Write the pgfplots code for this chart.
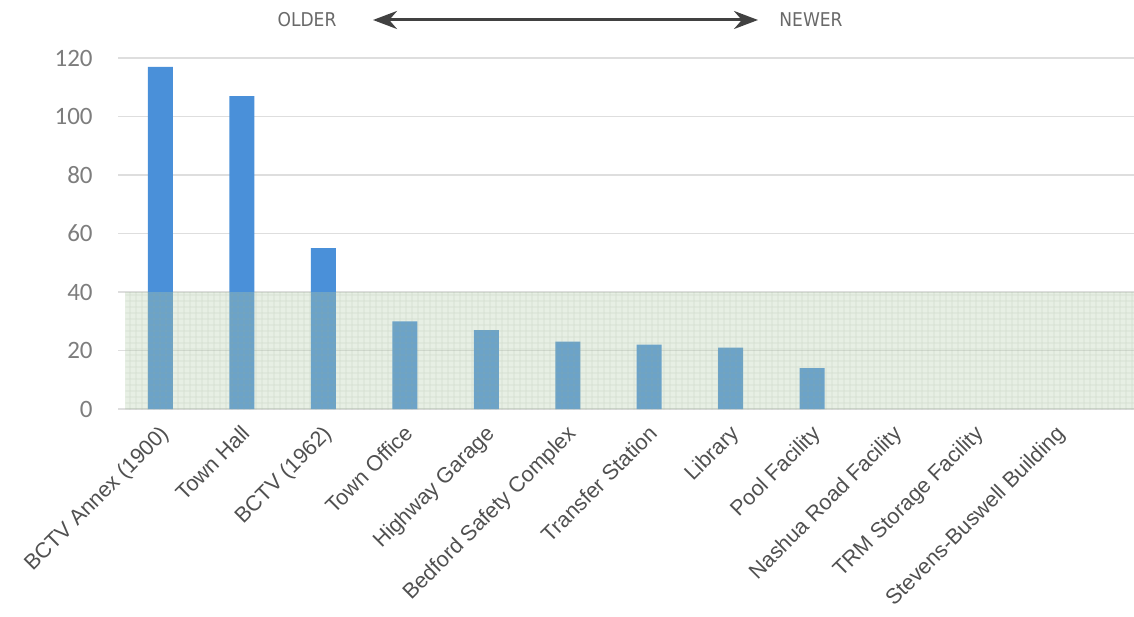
\documentclass[border=0pt]{standalone}
\usepackage{pgfplots}
\usepackage{pgfplotstable}
\pgfplotsset{compat=1.18}
\usepackage{fontspec}
\setmainfont{Liberation Sans}
\newfontfamily\tickfont{Carlito}
\newfontfamily\headfont{DejaVu Sans Condensed}
\usetikzlibrary{patterns,arrows.meta}

\definecolor{barblue}{RGB}{74,144,217}
\definecolor{bandgreen}{RGB}{180,205,170}
\definecolor{bandgrid}{RGB}{150,170,145}
\definecolor{gridgray}{RGB}{222,222,222}
\definecolor{ticktext}{RGB}{125,125,125}
\definecolor{labeltext}{RGB}{80,80,80}
\definecolor{headtext}{RGB}{105,105,105}
\definecolor{arrowgray}{RGB}{65,65,65}

% building age in years, oldest first
\pgfplotstableread{
idx age
0 117
1 107
2 55
3 30
4 27
5 23
6 22
7 21
8 14
}\agetable

\begin{document}
\begin{tikzpicture}
\useasboundingbox (0,0) rectangle (567pt,308pt);
\begin{axis}[
  at={(59pt,103.5pt)}, anchor=south west,
  scale only axis, width=508pt, height=175.5pt,
  xmin=-0.52, xmax=11.95, ymin=0, ymax=120,
  axis line style={draw=none},
  tick style={draw=none},
  /pgf/number format/assume math mode=true,
  ytick={0,20,...,120},
  ymajorgrids, grid style={gridgray, line width=0.7pt},
  xtick={0,...,11},
  xticklabels={BCTV Annex (1900),Town Hall,BCTV (1962),Town Office,Highway Garage,Bedford Safety Complex,Transfer Station,Library,Pool Facility,Nashua Road Facility,TRM Storage Facility,Stevens-Buswell Building},
  xticklabel style={xshift=-1pt, yshift=-3pt, rotate=45, anchor=north east, inner sep=0pt,
    font=\fontsize{10.8}{12}\selectfont, text=labeltext},
  yticklabel style={font=\tickfont\fontsize{12.5}{14}\selectfont, text=ticktext, inner sep=0pt, xshift=-12.5pt},
  ybar, bar width=12.5pt,
]
\addplot[fill=barblue, draw=none] table[x=idx,y=age]{\agetable};
% shaded band for buildings under 40 years
\fill[bandgreen, fill opacity=0.32] (axis cs:-0.43,0) rectangle (axis cs:11.95,40);
\begin{scope}[transparency group, opacity=0.25]
\fill[pattern=grid, pattern color=bandgrid] (axis cs:-0.43,0) rectangle (axis cs:11.95,40);
\end{scope}
\end{axis}
\node[font=\headfont\fontsize{9.5}{11}\selectfont, text=headtext] at (153.5pt,298pt) {OLDER};
\draw[line width=1.5pt, arrowgray, {Stealth[length=12pt,width=9pt]}-{Stealth[length=12pt,width=9pt]}] (186.5pt,298pt) -- (379pt,298pt);
\node[font=\headfont\fontsize{9.5}{11}\selectfont, text=headtext] at (405.5pt,298pt) {NEWER};
\end{tikzpicture}
\end{document}
